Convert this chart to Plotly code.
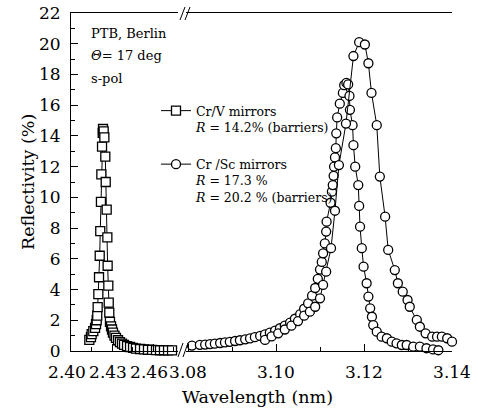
import plotly.graph_objects as go

# ---- data ----
crv_wl = [2.4134, 2.4146, 2.4151, 2.4163, 2.4176, 2.4183, 2.4188, 2.4192, 2.4195, 2.4200,
          2.4205, 2.4210, 2.4214, 2.4219, 2.4222, 2.4227, 2.4232, 2.4234, 2.4239, 2.4244,
          2.4251, 2.4254, 2.4261, 2.4266, 2.4268, 2.4273, 2.4276, 2.4280, 2.4285, 2.4293,
          2.4300, 2.4307, 2.4318, 2.4329, 2.4344, 2.4358, 2.4373, 2.4388, 2.4410, 2.4432,
          2.4454, 2.4475, 2.4505, 2.4534, 2.4563, 2.4593, 2.4622, 2.4651, 2.4680, 2.4710, 2.4739]
crv_r = [0.72, 0.9, 1.1, 1.3, 1.5, 1.75, 2.0, 2.3, 2.85, 3.7,
         4.8, 6.2, 7.8, 9.7, 11.5, 13.3, 14.2, 14.45, 14.3, 13.9,
         12.65, 11.0, 9.2, 7.4, 5.55, 4.25, 3.15, 2.5, 1.9, 1.6,
         1.4, 1.2, 1.0, 0.85, 0.7, 0.58, 0.48, 0.4, 0.32, 0.26,
         0.2, 0.16, 0.13, 0.1, 0.08, 0.07, 0.06, 0.05, 0.05, 0.04, 0.04]

crsc_a_wl = [3.0809, 3.0827, 3.0839, 3.0850, 3.0861, 3.0873, 3.0884, 3.0895, 3.0907, 3.0918,
             3.0930, 3.0941, 3.0952, 3.0964, 3.0975, 3.0986, 3.0998, 3.1009, 3.1020, 3.1032,
             3.1043, 3.1055, 3.1064, 3.1073, 3.1082, 3.1089, 3.1095, 3.1100, 3.1104, 3.1107,
             3.1111, 3.1114, 3.1115, 3.1124, 3.1127, 3.1129, 3.1131, 3.1132, 3.1134, 3.1136,
             3.1137, 3.1139, 3.1145, 3.1152, 3.1155, 3.1160, 3.1164, 3.1167, 3.1168, 3.1174,
             3.1176, 3.1180, 3.1187, 3.1189, 3.1191, 3.1195, 3.1199, 3.1206, 3.1210, 3.1214,
             3.1218, 3.1221, 3.1229, 3.1240, 3.1252, 3.1263, 3.1274, 3.1286, 3.1297, 3.1312,
             3.1327, 3.1342, 3.1357, 3.1369]
crsc_a_r = [0.35, 0.40, 0.42, 0.45, 0.48, 0.52, 0.56, 0.60, 0.65, 0.70,
            0.76, 0.82, 0.90, 0.98, 1.08, 1.20, 1.33, 1.48, 1.65, 1.85,
            2.1, 2.4, 2.75, 3.1, 3.6, 4.1, 4.7, 5.3, 5.8, 6.36,
            7.0, 7.77, 8.42, 9.65, 10.37, 10.8, 11.4, 12.0, 12.6, 13.2,
            14.17, 15.2, 16.1, 16.8, 17.3, 17.45, 17.35, 16.6, 15.7, 14.7,
            13.4, 12.0, 10.8, 9.44, 8.09, 6.69, 5.49, 4.41, 3.54, 2.78,
            2.23, 1.69, 1.26, 0.93, 0.83, 0.61, 0.5, 0.39, 0.39, 0.28,
            0.28, 0.18, 0.1, 0.05]

crsc_b_wl = [3.0975, 3.0990, 3.1005, 3.1020, 3.1035, 3.1050, 3.1064, 3.1077, 3.1089, 3.1100,
             3.1107, 3.1114, 3.1125, 3.1134, 3.1143, 3.1159, 3.1176, 3.1189, 3.1202, 3.1210,
             3.1217, 3.1229, 3.1236, 3.1248, 3.1255, 3.1270, 3.1277, 3.1288, 3.1299, 3.1304,
             3.1320, 3.1327, 3.1340, 3.1355, 3.1366, 3.1377, 3.1389, 3.1400, 3.1407]
crsc_b_r = [0.72, 0.95, 1.15, 1.4, 1.65, 1.95, 2.3, 2.56, 2.88, 3.43,
            4.3, 5.16, 6.69, 9.13, 12.1, 14.8, 19.2, 20.1, 19.95, 18.73,
            16.8, 14.7, 11.35, 8.74, 6.58, 5.27, 4.41, 3.86, 3.32, 2.88,
            2.02, 1.58, 1.15, 0.93, 0.93, 0.93, 0.83, 0.61, 0.61]

y_ticks = [0, 2, 4, 6, 8, 10, 12, 14, 16, 18, 20, 22]
x_left_ticks = [2.40, 2.43, 2.46]
x_right_ticks = [3.08, 3.10, 3.12, 3.14]

# ---- layout geometry (pixels) ----
W, H = 478, 412
L, R, T, B = 71, 26, 13, 61
PW, PH = W - L - R, H - T - B


def px(X):
    return (X - L) / PW


def py(Y):
    return (H - B - Y) / PH


d1 = px(178)
d2 = px(186)

FONT = "DejaVu Serif"
blk = "black"

fig = go.Figure()
fig.add_trace(go.Scatter(
    x=crv_wl, y=crv_r, xaxis="x", yaxis="y", mode="lines+markers",
    name="Cr/V mirrors<br><i>R</i> = 14.2% (barriers)", legendgroup="a",
    line=dict(color=blk, width=1),
    marker=dict(symbol="square", size=9, color="white", line=dict(color=blk, width=1.3)),
    cliponaxis=False))
fig.add_trace(go.Scatter(
    x=crsc_a_wl, y=crsc_a_r, xaxis="x2", yaxis="y", mode="lines+markers",
    name="Cr /Sc mirrors<br><i>R</i> = 17.3 %<br><i>R</i> = 20.2 % (barriers)", legendgroup="b",
    line=dict(color=blk, width=1),
    marker=dict(symbol="circle", size=9, color="white", line=dict(color=blk, width=1.3)),
    cliponaxis=False))
fig.add_trace(go.Scatter(
    x=crsc_b_wl, y=crsc_b_r, xaxis="x2", yaxis="y", mode="lines+markers",
    name="Cr/Sc barriers", legendgroup="b", showlegend=False,
    line=dict(color=blk, width=1),
    marker=dict(symbol="circle", size=9, color="white", line=dict(color=blk, width=1.3)),
    cliponaxis=False))

tickfont = dict(family=FONT, size=17, color=blk)
common_x = dict(showline=True, linecolor=blk, linewidth=1, mirror=True, ticks="inside",
                ticklen=7, tickcolor=blk, showgrid=False, zeroline=False, tickfont=tickfont,
                ticklabelstandoff=6, automargin=False)

fig.update_layout(
    width=W, height=H, margin=dict(l=L, r=R, t=T, b=B, autoexpand=False),
    paper_bgcolor="white", plot_bgcolor="white",
    font=dict(family=FONT, color=blk),
    xaxis=dict(domain=[0, d1], range=[2.40, 2.40 + (178 - 71) / 1367], anchor="y",
               tickvals=x_left_ticks, ticktext=[f"{v:.2f}" for v in x_left_ticks],
               minor=dict(ticks="inside", ticklen=4, dtick=0.015, tick0=2.40, tickcolor=blk),
               ticklabelshift=-4, **common_x),
    xaxis2=dict(domain=[d2, 1], range=[3.08 - (188 - 186) / 4400, 3.14], anchor="y",
                tickvals=x_right_ticks, ticktext=[f"{v:.2f}" for v in x_right_ticks],
                minor=dict(ticks="inside", ticklen=4, dtick=0.01, tick0=3.08, tickcolor=blk),
                **common_x),
    yaxis=dict(range=[0, 22], anchor="x", showline=True, linecolor=blk, linewidth=1,
               ticks="inside", ticklen=7, tickcolor=blk, tickvals=y_ticks,
               minor=dict(ticks="inside", ticklen=4, dtick=1, tickcolor=blk),
               showgrid=False, zeroline=False, tickfont=tickfont, ticklabelstandoff=6,
               automargin=False),
    yaxis2=dict(range=[0, 22], overlaying="y", anchor="x2", side="right", showline=True,
                linecolor=blk, linewidth=1, showticklabels=False, ticks="",
                showgrid=False, zeroline=False, automargin=False),
    showlegend=True,
    legend=dict(x=px(156), y=py(96), xanchor="left", yanchor="top",
                font=dict(family=FONT, size=12.5, color=blk), valign="top",
                bgcolor="rgba(0,0,0,0)", borderwidth=0, tracegroupgap=18,
                traceorder="grouped", itemwidth=30),
)

ann_font = dict(family=FONT, size=13, color=blk)
for txt, yy in [("PTB, Berlin", 34), ("<i>Θ</i>= 17 deg", 56), ("s-pol", 78)]:
    fig.add_annotation(text=txt, x=px(89), y=py(yy), xref="paper", yref="paper",
                       xanchor="left", yanchor="middle", showarrow=False, font=ann_font)

fig.add_annotation(text="Reflectivity (%)", x=px(28), y=py(182), xref="paper", yref="paper",
                   textangle=-90, xanchor="center", yanchor="middle", showarrow=False,
                   font=dict(family=FONT, size=17.5, color=blk))
fig.add_annotation(text="Wavelength (nm)", x=px(257), y=py(397), xref="paper", yref="paper",
                   xanchor="center", yanchor="middle", showarrow=False,
                   font=dict(family=FONT, size=17.5, color=blk))

# axis break marks
for (x0, y0, x1, y1) in [(178, 357, 183, 343), (183, 357, 188, 343),
                         (180, 20, 185, 7), (185, 20, 190, 7)]:
    fig.add_shape(type="line", xref="paper", yref="paper",
                  x0=px(x0), y0=py(y0), x1=px(x1), y1=py(y1),
                  line=dict(color=blk, width=1))

fig.write_html("out.html", config={"displayModeBar": False},
               post_script="document.body.style.margin='0';")
